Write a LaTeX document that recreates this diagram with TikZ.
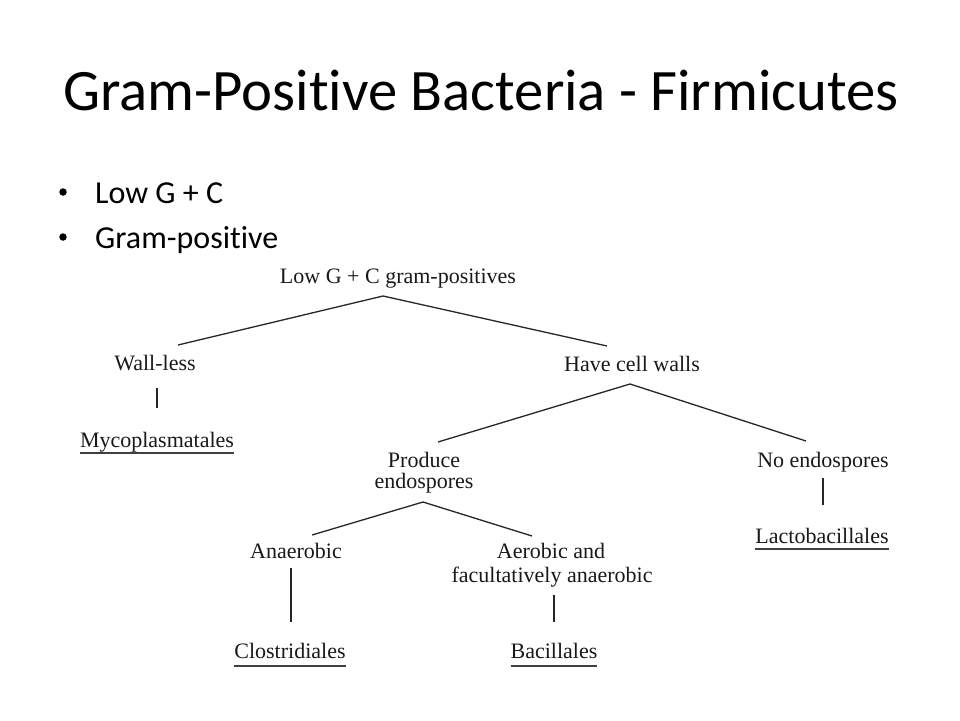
\documentclass[tikz,border=0pt]{standalone}
\usepackage{fontspec}
\setmainfont{Liberation Serif}
\newfontfamily\carlito[RawFeature={-liga;-clig;-calt;-dlig;-rlig}]{Carlito}
\usetikzlibrary{calc}
\begin{document}
\begin{tikzpicture}[x=1pt,y=-1pt,
  tree/.style={font=\fontsize{22}{24}\selectfont, inner sep=0pt, outer sep=0pt, anchor=base, text=black!90},
  branch/.style={line width=1.3pt, black!85},
  uline/.style={line width=1.1pt, black!75},
  slide/.style={font=\carlito\fontsize{32}{38}\selectfont, inner sep=0pt, anchor=base west},
  bulletdot/.style={circle, fill=black, minimum size=7.5pt, inner sep=0pt}]
\useasboundingbox[fill=white] (0,0) rectangle (960,720);
% title and bullets
\node[font=\carlito\fontsize{58.7}{64}\selectfont, inner sep=0pt, anchor=base] (title) at (481,110) {Gram-Positive Bacteria - Firmicutes};
\node[bulletdot] (b1dot) at (63,192) {};
\node[slide] (b1) at (95,203) {Low G + C};
\node[bulletdot] (b2dot) at (63,237) {};
\node[slide] (b2) at (95,248) {Gram-positive};
% tree nodes
\node[tree] (root) at (398,283) {Low G + C gram-positives};
\node[tree] (wall) at (155,370) {Wall-less};
\node[tree] (myco) at (157,447) {Mycoplasmatales};
\node[tree] (have) at (632,371) {Have cell walls};
\node[tree] (prodA) at (424,467) {Produce};
\node[tree] (prodB) at (424,488) {endospores};
\node[tree] (noendo) at (823,467) {No endospores};
\node[tree] (lacto) at (822,543) {Lactobacillales};
\node[tree] (anaer) at (296,558) {Anaerobic};
\node[tree] (aerA) at (551,558) {Aerobic and};
\node[tree] (aerB) at (552,582) {facultatively anaerobic};
\node[tree] (clos) at (290,658) {Clostridiales};
\node[tree] (baci) at (554,658) {Bacillales};
% connector end points
\coordinate (rootB) at (383,296);
\coordinate (wallT) at (178,345);
\coordinate (haveT) at (607,346);
\coordinate (wallB) at (157,388);
\coordinate (mycoT) at (157,408);
\coordinate (haveB) at (630,384);
\coordinate (prodT) at (438,442);
\coordinate (noendoT) at (806,441);
\coordinate (noendoB) at (823,478);
\coordinate (lactoT) at (823,505);
\coordinate (prodBot) at (423,502);
\coordinate (anaerT) at (312,535);
\coordinate (aerT) at (532,536);
\coordinate (anaerB) at (291,568);
\coordinate (closT) at (291,622);
\coordinate (aerBot) at (554,595);
\coordinate (baciT) at (554,622);
% connectors
\draw[branch] (rootB) -- (wallT);
\draw[branch] (rootB) -- (haveT);
\draw[branch] (wallB) -- (mycoT);
\draw[branch] (haveB) -- (prodT);
\draw[branch] (haveB) -- (noendoT);
\draw[branch] (noendoB) -- (lactoT);
\draw[branch] (prodBot) -- (anaerT);
\draw[branch] (prodBot) -- (aerT);
\draw[branch] (anaerB) -- (closT);
\draw[branch] (aerBot) -- (baciT);
% underlines
\draw[uline] ($(myco.base west)+(0,6)$) -- ($(myco.base east)+(0,6)$);
\draw[uline] ($(lacto.base west)+(0,6)$) -- ($(lacto.base east)+(0,6)$);
\draw[uline] ($(clos.base west)+(0,8)$) -- ($(clos.base east)+(0,8)$);
\draw[uline] ($(baci.base west)+(0,8)$) -- ($(baci.base east)+(0,8)$);
\end{tikzpicture}
\end{document}
